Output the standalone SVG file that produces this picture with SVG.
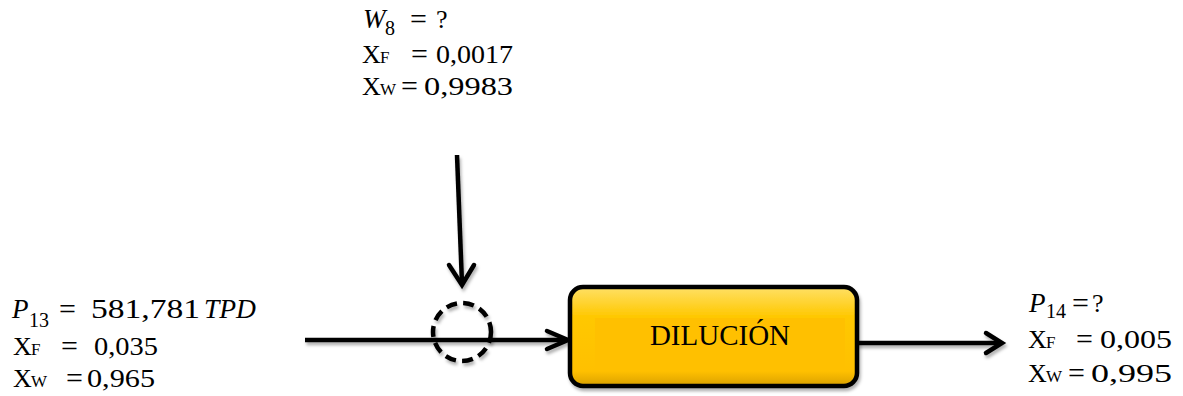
<svg xmlns="http://www.w3.org/2000/svg" width="1183" height="396" viewBox="0 0 1183 396">
<defs>
<filter id="sh" x="-20%" y="-20%" width="140%" height="160%">
<feDropShadow dx="1.5" dy="3" stdDeviation="1.8" flood-color="#000" flood-opacity="0.3"/>
</filter>
<linearGradient id="gold" x1="0" y1="0" x2="0" y2="1">
<stop offset="0" stop-color="#FFE066"/>
<stop offset="0.3" stop-color="#FFC800"/>
<stop offset="0.85" stop-color="#FFC000"/>
<stop offset="1" stop-color="#D9A000"/>
</linearGradient>
<style>
text{font-family:"Liberation Serif","Times New Roman",serif;fill:#000}
.t{font-size:26px}
.m{font-size:27px}
.eq{font-size:30px}
.i{font-style:italic}
.s{font-size:17px}
.ms{font-size:20px}
.ln{stroke:#000;stroke-width:4.5;fill:none;stroke-linecap:butt}
.hd{stroke:#000;stroke-width:4.5;fill:none;stroke-linecap:round;stroke-linejoin:miter}
</style>
</defs>

<g id="connectors" filter="url(#sh)">
<line class="ln" x1="305" y1="340" x2="567" y2="340"/>
<polyline class="hd" points="547,331 568,340 547,349"/>
<line class="ln" x1="457" y1="155" x2="462" y2="284"/>
<polyline class="hd" points="449,265 462,285 474,265"/>
<line class="ln" x1="857" y1="343" x2="1000" y2="343"/>
<polyline class="hd" points="986,333 1002,343 986,353"/>
</g>

<g id="mixer">
<circle cx="462" cy="332" r="29" fill="none" stroke="#000" stroke-width="4.5" stroke-dasharray="11 6.2" filter="url(#sh)"/>
</g>

<g id="dilucion">
<rect x="570" y="287" width="287" height="99" rx="13" fill="url(#gold)" stroke="#000" stroke-width="4.5" filter="url(#sh)"/>
<rect x="595" y="318" width="250" height="52" fill="#FFC000"/>
<text x="720" y="345" text-anchor="middle" style="font-size:29px">DILUCIÓN</text>
</g>

<g id="w8-label">
<text class="m i" x="363" y="28">W</text>
<text class="ms" x="385" y="35">8</text>
<text class="eq" x="410" y="29">=</text>
<text class="t" x="436" y="28">?</text>
<text class="t" x="362" y="63">X</text>
<text class="s" x="380" y="63">F</text>
<text class="eq" x="411" y="64">=</text>
<text class="t" x="436" y="63" textLength="77" lengthAdjust="spacingAndGlyphs">0,0017</text>
<text class="t" x="362" y="95">X</text>
<text class="s" x="380" y="95">W</text>
<text class="eq" x="401" y="96">=</text>
<text class="t" x="424" y="95" textLength="89" lengthAdjust="spacingAndGlyphs">0,9983</text>
</g>

<g id="p13-label">
<text class="m i" x="12" y="318">P</text>
<text class="ms" x="29" y="327">13</text>
<text class="eq" x="59" y="319">=</text>
<text class="m" x="91" y="318" textLength="109" lengthAdjust="spacingAndGlyphs">581,781</text>
<text class="m i" x="204" y="318" textLength="52" lengthAdjust="spacingAndGlyphs">TPD</text>
<text class="t" x="13" y="355">X</text>
<text class="s" x="31" y="355">F</text>
<text class="eq" x="61" y="356">=</text>
<text class="t" x="94" y="355" textLength="64" lengthAdjust="spacingAndGlyphs">0,035</text>
<text class="t" x="13" y="387">X</text>
<text class="s" x="31" y="387">W</text>
<text class="eq" x="66" y="388">=</text>
<text class="t" x="87" y="387" textLength="68" lengthAdjust="spacingAndGlyphs">0,965</text>
</g>

<g id="p14-label">
<text class="m i" x="1029" y="312">P</text>
<text class="ms" x="1046" y="318">14</text>
<text class="eq" x="1072" y="313">=</text>
<text class="t" x="1092" y="312">?</text>
<text class="t" x="1028" y="348">X</text>
<text class="s" x="1046" y="348">F</text>
<text class="eq" x="1076" y="349">=</text>
<text class="t" x="1100" y="348" textLength="72" lengthAdjust="spacingAndGlyphs">0,005</text>
<text class="t" x="1028" y="382">X</text>
<text class="s" x="1046" y="382">W</text>
<text class="eq" x="1068" y="383">=</text>
<text class="t" x="1091" y="382" textLength="81" lengthAdjust="spacingAndGlyphs">0,995</text>
</g>
</svg>
